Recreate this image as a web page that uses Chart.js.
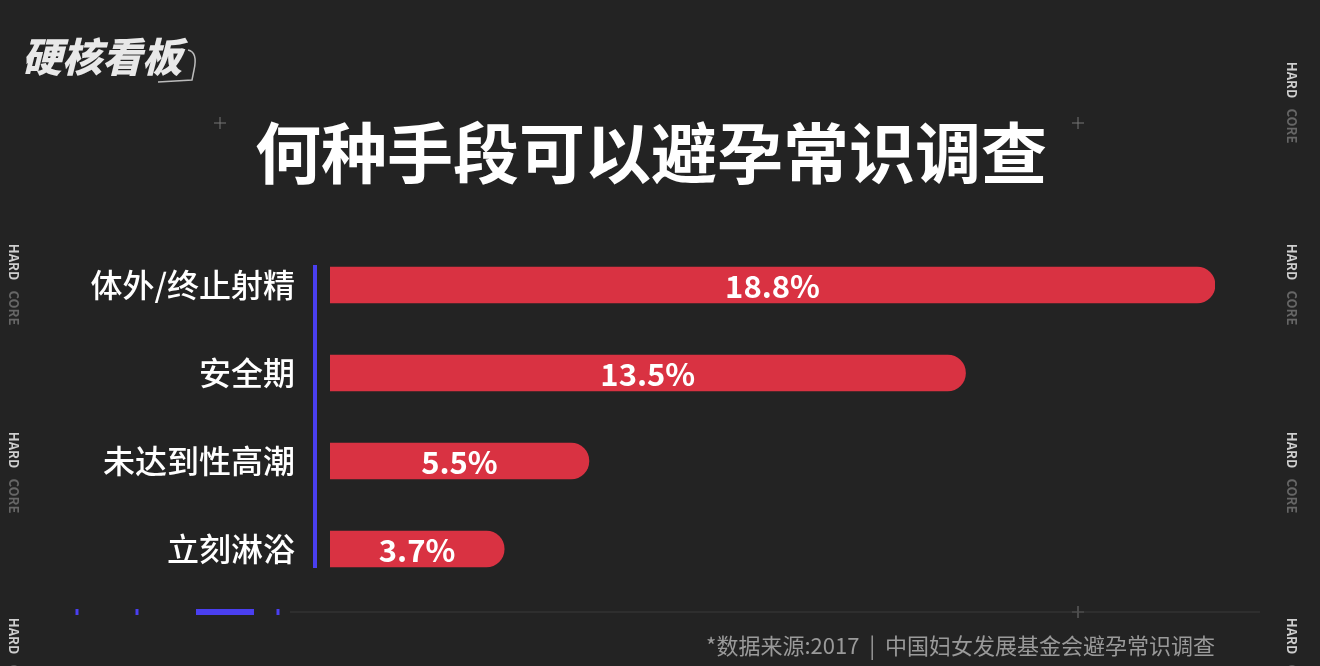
<!DOCTYPE html>
<html><head><meta charset="utf-8">
<script src="https://cdn.jsdelivr.net/npm/chart.js@4"></script>
<style>html,body{margin:0;padding:0;background:#232323;}#w{width:1320px;height:666px;position:relative}</style>
</head><body><div id="w"><canvas id="c"></canvas></div>
<script>
const categories = ['体外/终止射精','安全期','未达到性高潮','立刻淋浴'];
const values = [18.8, 13.5, 5.5, 3.7];
const valueLabels = ['18.8%','13.5%','5.5%','3.7%'];
const title = '何种手段可以避孕常识调查';
const source = '*数据来源:2017  |  中国妇女发展基金会避孕常识调查';
const F = '"Noto Sans CJK SC", "Noto Sans", sans-serif';

const deco = {
  id:'deco',
  beforeDraw(ch){
    const c=ch.ctx; c.save();
    c.fillStyle='#232323'; c.fillRect(0,0,1320,666);
    // logo
    c.font='italic 900 40px '+F; c.fillStyle='#e8e8e8'; c.textBaseline='middle'; c.textAlign='left';
    c.fillText('硬核看板',22,57);
    c.strokeStyle='#bbb'; c.lineWidth=1.5; c.beginPath();
    c.moveTo(188,50);c.quadraticCurveTo(198,52,194,70);c.lineTo(192,80);c.lineTo(158,82);c.stroke();
    // title
    c.font='bold 66px '+F; c.fillStyle='#fff'; c.textAlign='center';
    c.fillText(title,651,153);
    // crosses
    c.strokeStyle='#777'; c.lineWidth=1;
    [[220,123],[1078,123],[1078,612]].forEach(([x,y])=>{c.beginPath();c.moveTo(x-6,y);c.lineTo(x+6,y);c.moveTo(x,y-6);c.lineTo(x,y+6);c.stroke();});
    // bottom line
    c.strokeStyle='#3a3a3a'; c.beginPath(); c.moveTo(290,612); c.lineTo(1260,612); c.stroke();
    c.fillStyle='#4a3ff0';
    [77,137,278].forEach(x=>{c.fillRect(x-1.5,609,3,6);});
    c.fillRect(196,609,58,6);
    // side HARD
    c.font='bold 13px '+F; c.fillStyle='#cfcfcf';
    [[14,262],[14,450],[14,636],[1292,80],[1292,262],[1292,450],[1292,636]].forEach(([x,y])=>{
      c.save(); c.translate(x,y); c.rotate(Math.PI/2); c.textAlign='center'; c.fillText('HARD',0,0);
      c.fillStyle='#666'; c.fillText('CORE',46,0); c.restore();
    });
    // source
    c.font='22px '+F; c.fillStyle='#9a9a9a'; c.textAlign='right';
    c.fillText(source,1215,646);
    // axis line
    c.fillStyle='#4a3ff0'; c.fillRect(313,265,4,303);
    c.restore();
  },
  afterDatasetsDraw(ch){
    const c=ch.ctx; c.save();
    c.font='bold 31px '+F; c.fillStyle='#fff'; c.textAlign='center'; c.textBaseline='middle';
    ch.getDatasetMeta(0).data.forEach((b,i)=>{
      c.fillText(valueLabels[i], (b.base+b.x)/2, b.y+1);
    });
    c.restore();
  }
};

new Chart(document.getElementById('c'),{
  type:'bar',
  data:{labels:categories,datasets:[{data:values,backgroundColor:'#d93242',barThickness:36,
    borderRadius:{topLeft:0,bottomLeft:0,topRight:18,bottomRight:18},borderSkipped:'start'}]},
  options:{
    indexAxis:'y', responsive:true, maintainAspectRatio:false, animation:false,
    layout:{padding:{left:0,right:105,top:241,bottom:73}},
    plugins:{legend:{display:false},tooltip:{enabled:false}},
    scales:{
      x:{display:false,min:0,max:18.8},
      y:{grid:{display:false},border:{display:false},
        ticks:{color:'#fff',font:{family:F,size:32,weight:'500'},padding:27},
        afterFit(s){s.width=330;}}
    }
  },
  plugins:[deco]
});
</script></body></html>
